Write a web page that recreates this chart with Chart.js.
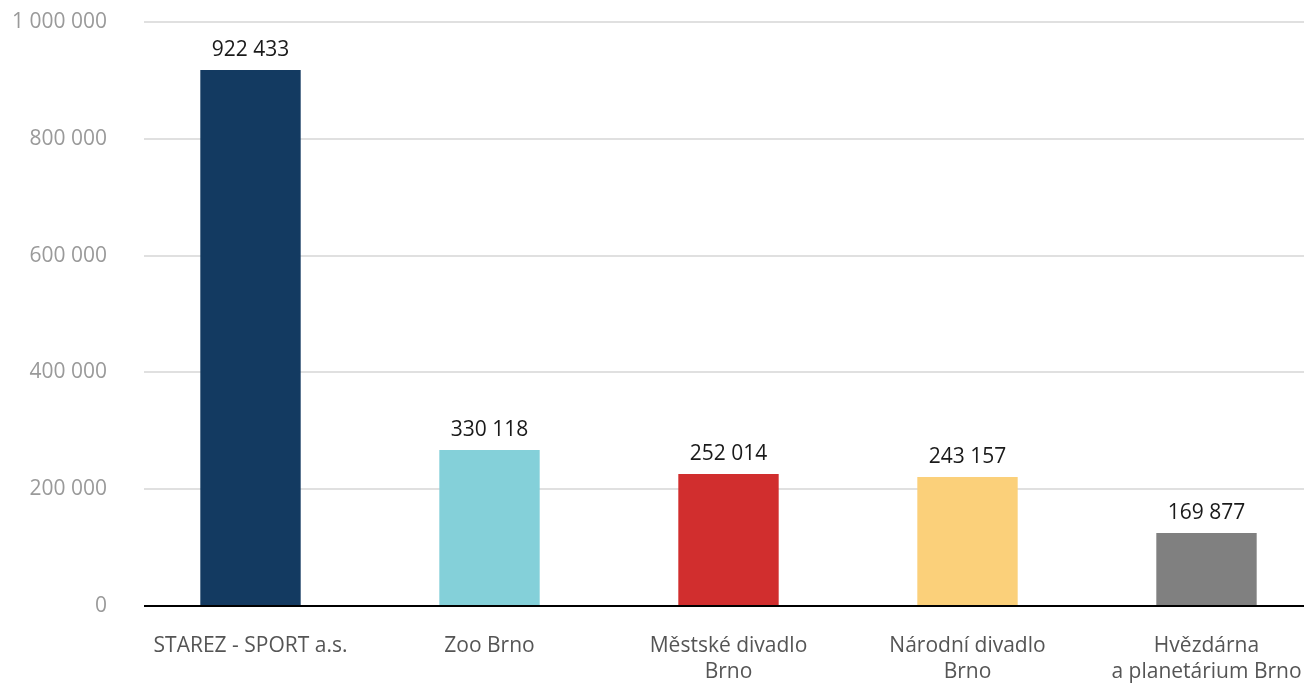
<!DOCTYPE html>
<html>
<head>
<meta charset="utf-8">
<script src="https://cdn.jsdelivr.net/npm/chart.js@4.4.1/dist/chart.umd.min.js"></script>
<style>
    html, body { margin: 0; padding: 0; background: #fff; overflow: hidden; }
    #chart { display: block; }
</style>
</head>
<body>
<canvas id="chart" width="1326" height="684"></canvas>
<script>
const categories = [
    'STAREZ - SPORT a.s.',
    'Zoo Brno',
    ['Městské divadlo', 'Brno'],
    ['Národní divadlo', 'Brno'],
    ['Hvězdárna', 'a planetárium Brno']
];
// bar heights as drawn in the picture
const barValues = [918000, 267000, 226000, 221000, 125000];
// numbers printed above the bars
const labelValues = [922433, 330118, 252014, 243157, 169877];
const barColors = ['#133a61', '#84d0d9', '#d12e2e', '#fbd07a', '#808080'];
const yTicks = [0, 200000, 400000, 600000, 800000, 1000000];

function fmt(n) {
    return String(n).replace(/\B(?=(\d{3})+(?!\d))/g, ' ');
}

// grid and baseline start a bit right of the plot edge in the original
const gridInset = {
    id: 'gridInset',
    beforeDatasetsDraw(chart) {
        const { ctx, chartArea } = chart;
        ctx.save();
        ctx.fillStyle = '#fff';
        ctx.fillRect(chartArea.left - 2, 0, 15, chartArea.bottom + 4);
        ctx.restore();
    }
};

const valueLabels = {
    id: 'valueLabels',
    afterDatasetsDraw(chart) {
        const ctx = chart.ctx;
        const meta = chart.getDatasetMeta(0);
        ctx.save();
        ctx.font = '21px "Open Sans"';
        ctx.fillStyle = '#1a1a1a';
        ctx.textAlign = 'center';
        ctx.textBaseline = 'alphabetic';
        meta.data.forEach((bar, i) => {
            ctx.fillText(fmt(labelValues[i]), bar.x, bar.y - 14);
        });
        ctx.restore();
    }
};

new Chart(document.getElementById('chart'), {
    type: 'bar',
    data: {
        labels: categories,
        datasets: [{
            data: barValues,
            backgroundColor: barColors,
            borderWidth: 0,
            barPercentage: 0.42,
            categoryPercentage: 1
        }]
    },
    options: {
        responsive: false,
        animation: false,
        layout: { padding: { top: 22, left: 0, right: 0, bottom: 0 } },
        plugins: {
            legend: { display: false },
            tooltip: { enabled: false }
        },
        scales: {
            x: {
                grid: { display: false },
                border: { color: '#000', width: 2 },
                ticks: {
                    color: '#555',
                    font: { family: 'Open Sans', size: 21, lineHeight: 1.25 },
                    padding: 19,
                    maxRotation: 0,
                    autoSkip: false
                },
                afterFit(scale) { scale.height = 78; }
            },
            y: {
                min: 0,
                max: 1000000,
                afterBuildTicks(scale) { scale.ticks = yTicks.map(v => ({ value: v })); },
                grid: { color: '#e0e0e0', lineWidth: 2, drawTicks: false },
                border: { display: false },
                ticks: {
                    color: '#9a9a9a',
                    font: { family: 'Open Sans', size: 21 },
                    padding: 24,
                    callback: v => fmt(v)
                },
                afterFit(scale) {
                    scale.width = 131;
                    scale.paddingTop = 0;
                    scale.paddingBottom = 0;
                }
            }
        }
    },
    plugins: [gridInset, valueLabels]
});
</script>
</body>
</html>
